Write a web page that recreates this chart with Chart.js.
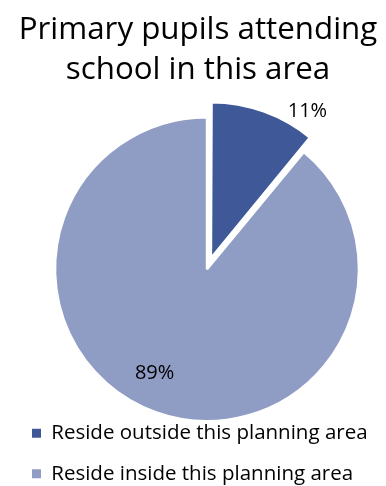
<!DOCTYPE html>
<html>
<head>
<meta charset="utf-8">
<script src="https://cdn.jsdelivr.net/npm/chart.js@4.4.1/dist/chart.umd.min.js"></script>
<style>
  html, body { margin: 0; padding: 0; background: #fff; overflow: hidden; }
  /* canvas runs a little past the window on the right and bottom */
  #wrap { width: 402px; height: 494px; }
</style>
</head>
<body>
<div id="wrap"><canvas id="pupilsChart"></canvas></div>
<script>
const categories = ['Reside outside this planning area', 'Reside inside this planning area'];
const shares = [11, 89];
const sliceColours = ['#3F5998', '#8F9CC4'];
// Chart.js moves an arc by offset / 4 pixels
const explode = [46, 0];
// percentage label placement: fraction of the radius, and a turn (degrees) off the slice middle
const labelRadius = [1.23, 0.77];
const labelTurn = [12.7, 6.8];

const fontFamily = '"Open Sans", Lato, sans-serif';

const pctLabels = {
    id: 'pctLabels',
    afterDatasetsDraw(chart) {
        const ctx = chart.ctx;
        const meta = chart.getDatasetMeta(0);
        ctx.save();
        ctx.font = '20px ' + fontFamily;
        ctx.fillStyle = '#000';
        ctx.textAlign = 'center';
        ctx.textBaseline = 'middle';
        meta.data.forEach((arc, i) => {
            const p = arc.getProps(['x', 'y', 'startAngle', 'endAngle', 'outerRadius'], true);
            const mid = (p.startAngle + p.endAngle) / 2 + labelTurn[i] * Math.PI / 180;
            const r = p.outerRadius * labelRadius[i];
            ctx.fillText(shares[i] + '%', p.x + Math.cos(mid) * r, p.y + Math.sin(mid) * r);
        });
        ctx.restore();
    }
};

// title sits centred on the page, not on the (right-shifted) pie
const titleShift = {
    id: 'titleShift',
    afterLayout(chart) {
        const t = chart.titleBlock;
        t.left -= 18;
        t.width += 18;
    }
};

new Chart(document.getElementById('pupilsChart'), {
    type: 'pie',
    data: {
        labels: categories,
        datasets: [{
            data: shares,
            backgroundColor: sliceColours,
            borderColor: '#ffffff',
            borderWidth: 2.5,
            offset: explode
        }]
    },
    options: {
        responsive: true,
        maintainAspectRatio: false,
        animation: false,
        radius: 152,
        layout: { padding: { left: 12, right: 0, top: 0, bottom: 0 } },
        plugins: {
            tooltip: { enabled: false },
            title: {
                display: true,
                text: ['Primary pupils attending', 'school in this area'],
                color: '#000',
                font: { family: fontFamily, size: 31.3, weight: 'normal', lineHeight: 1.25 },
                padding: { top: 11, bottom: 46 }
            },
            legend: {
                position: 'bottom',
                align: 'start',
                labels: {
                    boxWidth: 9,
                    boxHeight: 9,
                    padding: 20,
                    color: '#000',
                    font: { family: fontFamily, size: 20.5 },
                    generateLabels(chart) {
                        const items = Chart.overrides.pie.plugins.legend.labels.generateLabels(chart);
                        items.forEach(it => { it.lineWidth = 0; it.strokeStyle = it.fillStyle; });
                        return items;
                    }
                }
            }
        }
    },
    plugins: [pctLabels, titleShift]
});
</script>
</body>
</html>
